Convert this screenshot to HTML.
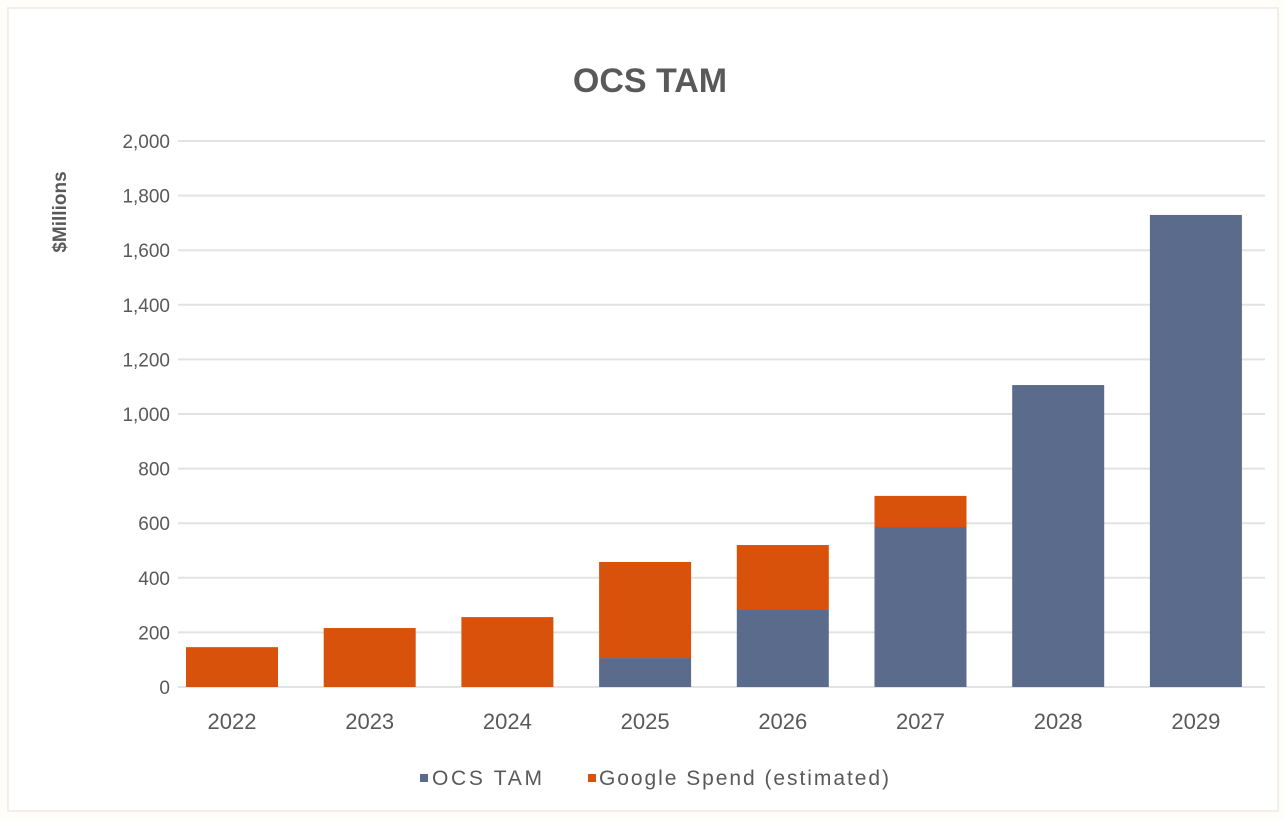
<!DOCTYPE html>
<html><head><meta charset="utf-8"><style>
html,body{margin:0;padding:0;background:#fff;}
svg{display:block;font-family:"Liberation Sans",sans-serif;}
</style></head><body>
<svg id="chart" width="1284" height="819" viewBox="0 0 1284 819">
<rect x="0" y="0" width="1284" height="819" fill="#fffdf9"/>
<rect x="8" y="8" width="1270" height="803" fill="#fff" stroke="#f2efe9" stroke-width="2"/>
<text x="650" y="92" text-anchor="middle" font-size="34" font-weight="bold" fill="#595959">OCS TAM</text>
<text transform="translate(66,212) rotate(-90)" text-anchor="middle" font-size="19" font-weight="bold" fill="#595959">$Millions</text>
<g id="grid"></g><g id="bars"></g><g id="xlabels"></g>
<g>
<rect x="420" y="774" width="8" height="8" fill="#5a6b8c"/>
<text x="432" y="785" font-size="21" fill="#595959" textLength="110">OCS TAM</text>
<rect x="588" y="774" width="8" height="8" fill="#d9520b"/>
<text x="599" y="785" font-size="21" fill="#595959" textLength="290">Google Spend (estimated)</text>
</g>
</svg>
<script>
const categories=["2022","2023","2024","2025","2026","2027","2028","2029"];
const ocsTam=[0,0,0,106,282,586,1106,1729];
const googleSpend=[146,216,256,352,238,114,0,0];
const yTicks=[0,200,400,600,800,1000,1200,1400,1600,1800,2000];
const yTickLabels=["0","200","400","600","800","1,000","1,200","1,400","1,600","1,800","2,000"];
const NS="http://www.w3.org/2000/svg";
const y0=687,y1=141,xL=178,xR=1265;
function yS(v){return y0-(v/2000)*(y0-y1);}
const step=137.7;
function xC(i){return 232+step*i;}
const bw=92;
function mk(t,a,p){const e=document.createElementNS(NS,t);for(const k in a)e.setAttribute(k,a[k]);p.appendChild(e);return e;}
const g=document.getElementById('grid');
yTicks.forEach((v,i)=>{
 const l=mk('line',{x1:xL,x2:xR,y1:yS(v),y2:yS(v),stroke:'#e3e3e3','stroke-width':2},g);
 
 
 const t=mk('text',{x:170,y:yS(v)+7,'text-anchor':'end','font-size':19,fill:'#595959'},g);
 t.textContent=yTickLabels[i];
 
 
});
const b=document.getElementById('bars'),xl=document.getElementById('xlabels');
categories.forEach((c,i)=>{
 const x=xC(i)-bw/2;
 if(ocsTam[i]>0){const r=mk('rect',{x:x,y:yS(ocsTam[i]),width:bw,height:y0-yS(ocsTam[i]),fill:'#5a6b8c'},b);
 
 }
 if(googleSpend[i]>0){const top=yS(ocsTam[i]+googleSpend[i]);const r=mk('rect',{x:x,y:top,width:bw,height:yS(ocsTam[i])-top,fill:'#d9520b'},b);
 
 }
 const t=mk('text',{x:xC(i),y:729,'text-anchor':'middle','font-size':22,fill:'#595959'},xl);
 t.textContent=c;
 
 
});
</script>
</body></html>
